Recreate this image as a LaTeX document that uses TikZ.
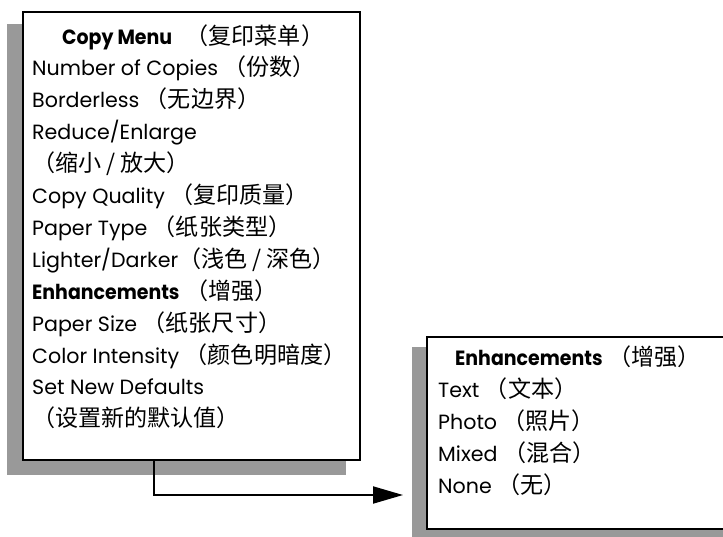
\documentclass[tikz,border=0pt]{standalone}
\usepackage{fontspec}
\setmainfont{Poppins}[BoldFeatures={FakeStretch=0.92}]
\newfontfamily\cjk{Noto Sans CJK SC}[Scale=1.12]
\usetikzlibrary{arrows.meta}
\definecolor{shadowgray}{RGB}{153,153,153}
\newcommand\zhgap{\hspace{8pt}}
\tikzset{
  menubox/.style={draw=black, line width=2.4pt, fill=white, inner sep=0pt, anchor=north west},
  item/.style={anchor=base west, inner sep=0pt, font=\fontsize{20.6}{24}\selectfont},
  conn/.style={line width=2pt, -{Triangle[length=30pt,width=17pt]}}
}
\begin{document}
\begin{tikzpicture}[x=1pt,y=-1pt]
\useasboundingbox (0,0) rectangle (723,536);
\clip (0,0) rectangle (723,536);
% main menu
\fill[shadowgray] (7,24) rectangle (346,475);
\node[menubox, minimum width=337pt, minimum height=448pt] (main) at (22,11) {};
\node[item] (m1) at (62,44) {{\bfseries Copy Menu} \zhgap{\cjk （复印菜单）}};
\node[item] (m2) at (32,75.9) {Number of Copies {\cjk （份数）}};
\node[item] (m3) at (32,107.8) {Borderless {\cjk （无边界）}};
\node[item] (m4) at (32,139.7) {Reduce/Enlarge};
\node[item] (m5) at (32,171.6) {\cjk （缩小 / 放大）};
\node[item] (m6) at (32,203.5) {Copy Quality {\cjk （复印质量）}};
\node[item] (m7) at (32,235.4) {Paper Type {\cjk （纸张类型）}};
\node[item] (m8) at (32,267.3) {Lighter/Darker{\cjk （浅色 / 深色）}};
\node[item] (m9) at (32,299.2) {{\bfseries Enhancements} {\cjk （增强）}};
\node[item] (m10) at (32,331.1) {Paper Size {\cjk （纸张尺寸）}};
\node[item] (m11) at (32,363) {Color Intensity {\cjk （颜色明暗度）}};
\node[item] (m12) at (32,394.9) {Set New Defaults};
\node[item] (m13) at (32,426.8) {\cjk （设置新的默认值）};
% enhancements submenu
\fill[shadowgray] (412,347) rectangle (740,550);
\node[menubox, minimum width=320pt, minimum height=192pt] (sub) at (426,336) {};
\node[item] (s1) at (455,365) {{\bfseries Enhancements} {\cjk （增强）}};
\node[item] (s2) at (438,397) {Text {\cjk （文本）}};
\node[item] (s3) at (438,429) {Photo {\cjk （照片）}};
\node[item] (s4) at (438,461) {Mixed {\cjk （混合）}};
\node[item] (s5) at (438,493) {None {\cjk （无）}};
% connector
\coordinate (start) at (154,459);
\coordinate (tip) at (403,495);
\draw[conn] (start) |- (tip);
\end{tikzpicture}
\end{document}
